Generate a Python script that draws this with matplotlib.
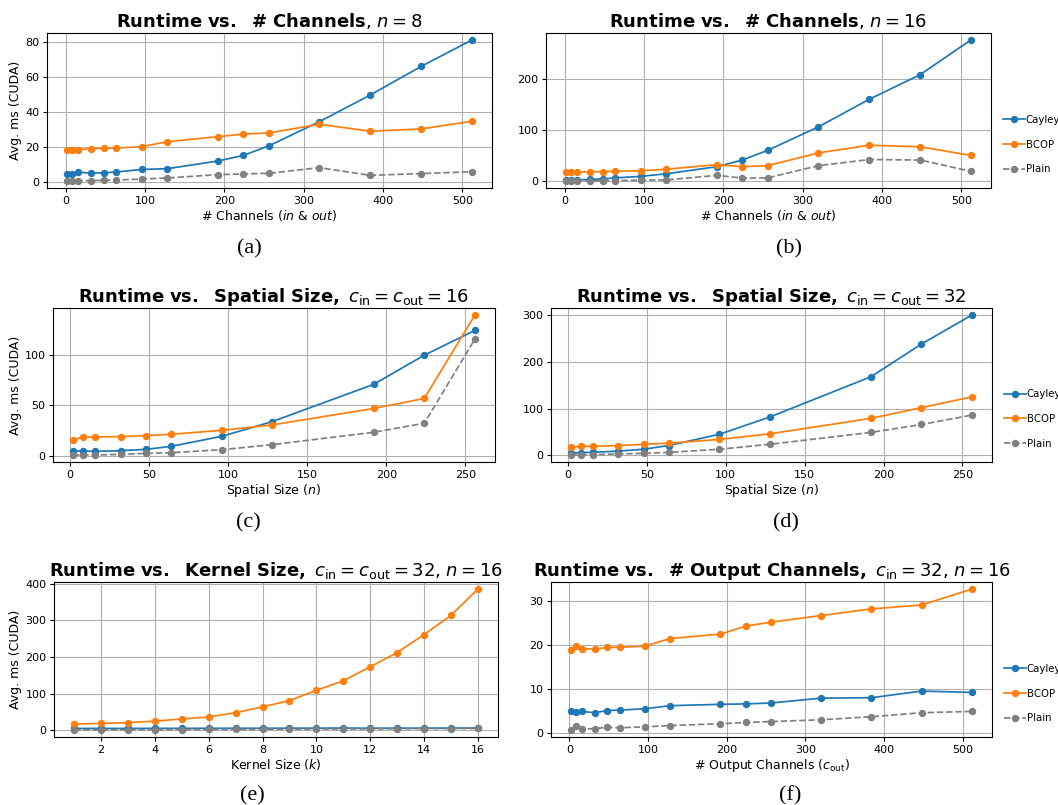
import matplotlib

matplotlib.use("Agg")
import matplotlib.pyplot as plt
from matplotlib.ticker import MultipleLocator

# x values
CHANNELS = [2, 8, 16, 32, 48, 64, 96, 128, 192, 224, 256, 320, 384, 448, 512]
SPATIAL = [2, 8, 16, 32, 48, 64, 96, 128, 192, 224, 256]
KERNEL = list(range(1, 17))
OUT_CHANNELS = [2, 8, 16, 32, 48, 64, 96, 128, 192, 224, 256, 320, 384, 448, 512]

# (a) channels, n = 8
a_cayley = [4.8, 4.4, 5.7, 5.0, 5.3, 5.7, 7.2, 7.6, 12.0, 15.2, 20.6, 34.5, 49.7, 66.0, 81.1]
a_bcop = [18.1, 18.3, 18.5, 19.0, 19.2, 19.4, 20.2, 23.0, 25.9, 27.4, 28.0, 33.0, 29.0, 30.3, 34.7]
a_plain = [0.6, 0.6, 0.8, 0.8, 1.0, 1.1, 1.7, 2.3, 4.2, 4.6, 5.0, 8.2, 3.8, 4.8, 5.9]

# (b) channels, n = 16
b_cayley = [3, 3, 3, 4, 5, 7, 10, 15, 29, 42, 61, 107, 161, 209, 277]
b_bcop = [18, 18, 18, 19, 19, 20, 21, 24, 33, 29, 31, 56, 71, 68, 51]
b_plain = [1, 1, 1, 1, 1.5, 1.5, 2.6, 3, 12, 6.5, 7, 31, 43, 42, 20]

# (c) spatial size, c = 16
c_cayley = [4.7, 4.7, 4.3, 5.0, 6.3, 9.3, 19.3, 34.0, 71.0, 100.0, 124.7]
c_bcop = [15.7, 18.7, 18.7, 19.0, 20.0, 21.3, 25.3, 30.7, 47.0, 57.0, 140.0]
c_plain = [0.7, 0.7, 0.7, 1.3, 2.3, 3.0, 6.0, 11.0, 23.3, 32.3, 116.0]

# (d) spatial size, c = 32
d_cayley = [5.0, 5.7, 6.4, 9.0, 13.0, 21.0, 45.0, 82.0, 168.0, 238.0, 300.0]
d_bcop = [17.0, 19.3, 19.3, 20.7, 23.6, 26.0, 34.0, 46.0, 79.0, 102.0, 125.0]
d_plain = [0.7, 1.4, 1.4, 2.9, 4.3, 6.4, 13.0, 23.6, 49.0, 66.0, 86.0]

# (e) kernel size
e_cayley = [5.0, 5.2, 5.1, 5.3, 5.4, 5.5, 5.6, 5.7, 5.8, 5.9, 6.2, 5.8, 5.9, 6.0, 6.1, 6.2]
e_bcop = [17, 19, 21, 25, 31, 36.5, 48, 64, 81, 109, 135, 173, 212, 261, 313, 385]
e_plain = [1.0, 1.3, 1.5, 1.8, 2.0, 2.3, 2.5, 2.8, 3.0, 3.3, 3.6, 3.9, 4.2, 4.5, 4.8, 5.0]

# (f) output channels, c_in = 32
f_cayley = [5.0, 4.9, 5.0, 4.7, 5.2, 5.3, 5.6, 6.3, 6.6, 6.7, 6.9, 8.0, 8.1, 9.6, 9.3]
f_bcop = [18.9, 19.8, 19.2, 19.1, 19.5, 19.5, 19.8, 21.5, 22.5, 24.3, 25.2, 26.7, 28.2, 29.1, 32.7]
f_plain = [0.8, 1.6, 1.0, 1.1, 1.4, 1.3, 1.5, 1.8, 2.2, 2.5, 2.7, 3.1, 3.8, 4.7, 5.0]

TITLES = [
    r"$\bf{Runtime\ vs.\ \ \#\ Channels}$, $n = 8$",
    r"$\bf{Runtime\ vs.\ \ \#\ Channels}$, $n = 16$",
    r"$\bf{Runtime\ vs.\ \ Spatial\ Size,}$ $c_{\rm in} = c_{\rm out} = 16$",
    r"$\bf{Runtime\ vs.\ \ Spatial\ Size,}$ $c_{\rm in} = c_{\rm out} = 32$",
    r"$\bf{Runtime\ vs.\ \ Kernel\ Size,}$ $c_{\rm in} = c_{\rm out} = 32$, $n = 16$",
    r"$\bf{Runtime\ vs.\ \ \#\ Output\ Channels,}$ $c_{\rm in} = 32$, $n = 16$",
]
XLABELS = [
    r"# Channels ($in$ & $out$)",
    r"# Channels ($in$ & $out$)",
    r"Spatial Size ($n$)",
    r"Spatial Size ($n$)",
    r"Kernel Size ($k$)",
    r"# Output Channels ($c_{\rm out}$)",
]
CAPTIONS = ["(a)", "(b)", "(c)", "(d)", "(e)", "(f)"]
Y_STEPS = [20, 100, 50, 100, 100, 10]

W, H = 1058, 805
# axes boxes in pixels: left, top, right, bottom
BOXES = [
    (47, 33, 492, 188),
    (546, 33, 991, 188),
    (53, 308, 495, 462),
    (551, 308, 992, 462),
    (54, 582, 498, 737),
    (551, 582, 992, 737),
]
CAPTION_POS = [(249, 253), (789, 253), (248, 527), (786, 527), (252, 800), (790, 800)]

panels = [
    (CHANNELS, a_cayley, a_bcop, a_plain),
    (CHANNELS, b_cayley, b_bcop, b_plain),
    (SPATIAL, c_cayley, c_bcop, c_plain),
    (SPATIAL, d_cayley, d_bcop, d_plain),
    (KERNEL, e_cayley, e_bcop, e_plain),
    (OUT_CHANNELS, f_cayley, f_bcop, f_plain),
]

fig = plt.figure(figsize=(W / 100, H / 100), dpi=100)
line_kw = dict(marker="o", markersize=4.3, linewidth=1.25)

for i, (xs, cay, bcop, plain) in enumerate(panels):
    l, t, r, b = BOXES[i]
    ax = fig.add_axes([l / W, 1 - b / H, (r - l) / W, (b - t) / H])
    ax.plot(xs, cay, color="tab:blue", label="Cayley", **line_kw)
    ax.plot(xs, bcop, color="tab:orange", label="BCOP", **line_kw)
    ax.plot(xs, plain, color="gray", linestyle="--", label="Plain", **line_kw)
    ax.grid(True, color="#b0b0b0", linewidth=0.8)
    ax.yaxis.set_major_locator(MultipleLocator(Y_STEPS[i]))
    if i == 4:
        ax.set_xticks([2, 4, 6, 8, 10, 12, 14, 16])
    ax.tick_params(labelsize=8, length=3, pad=2.5)
    ax.set_title(TITLES[i], fontsize=13, pad=4)
    ax.set_xlabel(XLABELS[i], fontsize=9, labelpad=1.5)
    if i % 2 == 0:
        ax.set_ylabel("Avg. ms (CUDA)", fontsize=9, labelpad=2)
    else:
        ax.legend(loc="center left", bbox_to_anchor=(1.027, 0.28), frameon=False,
                  fontsize=7.3, labelspacing=1.45, handlelength=2.2, handletextpad=0.05,
                  borderpad=0, borderaxespad=0)
    cx, cy = CAPTION_POS[i]
    fig.text(cx / W, 1 - cy / H, CAPTIONS[i], ha="center", va="baseline",
             fontsize=16, family="Liberation Serif")

fig.savefig("out.png", dpi=100)
